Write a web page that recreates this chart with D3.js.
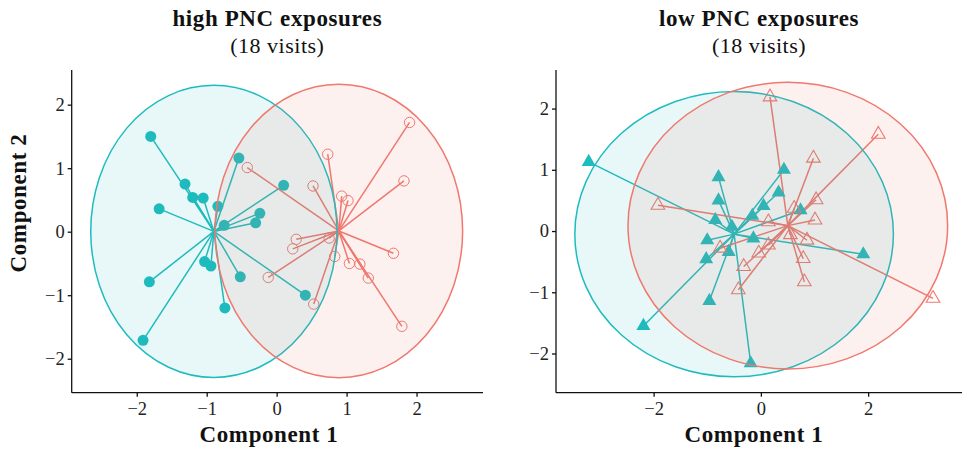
<!DOCTYPE html>
<html>
<head>
<meta charset="utf-8">
<script src="https://cdn.jsdelivr.net/npm/d3@7"></script>
<style>
  body { margin: 0; background: #fff; }
  text { font-family: "Liberation Serif", "DejaVu Serif", serif; fill: #111; }
  .title { font-weight: bold; font-size: 23px; letter-spacing: 0.6px; }
  .subtitle { font-size: 22px; letter-spacing: 0.5px; }
  .axis-label { font-weight: bold; font-size: 23px; letter-spacing: 0.6px; }
  .tick text { font-size: 18.5px; font-family: "Liberation Serif", serif; fill: #222; }
  .domain, .tick line { stroke: #111; stroke-width: 1.3; }
</style>
</head>
<body>
<svg width="962" height="452"></svg>
<script>
// high PNC panel, group 1 (filled) and group 2 (open)
const highGroup1 = [
  [-1.80, 1.50], [-1.31, 0.75], [-1.20, 0.54], [-1.05, 0.53], [-0.84, 0.40], [-1.68, 0.36],
  [-0.54, 1.16], [-1.82, -0.79], [-1.91, -1.71], [-1.03, -0.47], [-0.94, -0.54], [-0.52, -0.71],
  [-0.74, -1.20], [-0.75, 0.10], [0.10, 0.73], [-0.24, 0.29], [-0.30, 0.14], [0.41, -1.00]
];
const highGroup2 = [
  [1.90, 1.72], [0.73, 1.22], [1.82, 0.80], [0.52, 0.72], [-0.42, 1.01], [0.93, 0.56],
  [1.02, 0.49], [0.28, -0.12], [0.23, -0.27], [0.75, -0.10], [0.83, -0.39], [1.04, -0.50],
  [1.19, -0.51], [1.31, -0.73], [1.67, -0.34], [1.79, -1.49], [-0.12, -0.72], [0.53, -1.14]
];
// low PNC panel
const lowGroup1 = [
  [-3.21, 1.13], [-2.19, -1.55], [-0.79, 0.88], [-0.79, 0.50], [-0.85, 0.18], [-1.00, -0.15],
  [-1.02, -0.46], [-0.96, -1.14], [-0.60, -0.34], [-0.54, 0.07], [-0.16, 0.25], [-0.14, -0.12],
  [0.05, 0.41], [0.33, 0.63], [0.43, 1.00], [-0.19, -2.16], [1.91, -0.38], [0.74, 0.34]
];
const lowGroup2 = [
  [0.17, 2.19], [-1.92, 0.42], [-0.42, -0.96], [-0.32, -0.58], [-0.76, -0.28], [0.14, 0.15],
  [-0.04, -0.36], [0.14, -0.23], [2.19, 1.58], [0.98, 1.19], [1.03, 0.51], [1.01, 0.18],
  [0.62, 0.37], [3.21, -1.10], [0.79, -0.45], [0.81, -0.83], [0.86, -0.15], [0.55, -0.06]
];
// ellipse half-axes [rx, ry] for group 1 and group 2
const highRadii = [[1.76, 2.30], [1.77, 2.31]];
const lowRadii = [[2.97, 2.33], [2.98, 2.34]];

const titles = ["high PNC exposures", "low PNC exposures"];
const subtitles = ["(18 visits)", "(18 visits)"];
const xTicksHigh = [-2, -1, 0, 1, 2];
const xTicksLow = [-2, 0, 2];
const yTicks = [-2, -1, 0, 1, 2];

const colors = ["#1fbcbf", "#f0786e"];

const svg = d3.select("svg");

const panels = [
  { left: 71.7, right: 483, xDom: [-2.93, 2.95], yDom: [-2.535, 2.546], xTicks: xTicksHigh,
    groups: [highGroup1, highGroup2], radii: highRadii, shape: "circle", title: titles[0], sub: subtitles[0] },
  { left: 556, right: 962, xDom: [-3.82, 3.75], yDom: [-2.64, 2.63], xTicks: xTicksLow,
    groups: [lowGroup1, lowGroup2], radii: lowRadii, shape: "triangle", title: titles[1], sub: subtitles[1] }
];
const plotTop = 70, plotBottom = 392.7;

panels.forEach((p, pi) => {
  const x = d3.scaleLinear().domain(p.xDom).range([p.left, p.right]);
  const y = d3.scaleLinear().domain(p.yDom).range([plotBottom, plotTop]);
  const g = svg.append("g");

  p.groups.forEach((pts, gi) => {
    const cx = d3.mean(pts, d => d[0]), cy = d3.mean(pts, d => d[1]);
    // spider segments
    g.append("g").selectAll("line").data(pts).join("line")
      .attr("x1", x(cx)).attr("y1", y(cy))
      .attr("x2", d => x(d[0])).attr("y2", d => y(d[1]))
      .attr("stroke", colors[gi]).attr("stroke-width", 1.5);
  });

  p.groups.forEach((pts, gi) => {
    const filled = gi === 0;
    const pg = g.append("g");
    if (p.shape === "circle") {
      pg.selectAll("circle").data(pts).join("circle")
        .attr("cx", d => x(d[0])).attr("cy", d => y(d[1]))
        .attr("r", filled ? 5.5 : 5.2)
        .attr("fill", filled ? colors[gi] : "none")
        .attr("stroke", colors[gi]).attr("stroke-width", filled ? 0 : 1);
    } else {
      const sym = d3.symbol().type(d3.symbolTriangle).size(filled ? 85 : 80);
      pg.selectAll("path").data(pts).join("path")
        .attr("transform", d => `translate(${x(d[0])},${y(d[1])})`)
        .attr("d", sym)
        .attr("fill", filled ? colors[gi] : "none")
        .attr("stroke", colors[gi]).attr("stroke-width", filled ? 0 : 1.1);
    }
  });

  // ellipses drawn over the points, as in the original
  p.groups.forEach((pts, gi) => {
    const cx = d3.mean(pts, d => d[0]), cy = d3.mean(pts, d => d[1]);
    const [rx, ry] = p.radii[gi];
    g.append("ellipse")
      .attr("cx", x(cx)).attr("cy", y(cy))
      .attr("rx", x(cx + rx) - x(cx)).attr("ry", y(cy) - y(cy + ry))
      .attr("fill", colors[gi]).attr("fill-opacity", 0.1)
      .attr("stroke", colors[gi]).attr("stroke-width", 1.5);
  });

  const xAxis = d3.axisBottom(x).tickValues(p.xTicks).tickSize(4).tickPadding(3)
    .tickFormat(d => d < 0 ? "\u2212" + Math.abs(d) : d);
  const yAxis = d3.axisLeft(y).tickValues(yTicks).tickSize(4).tickPadding(3)
    .tickFormat(d => d < 0 ? "\u2212" + Math.abs(d) : d);

  const gx = svg.append("g").attr("transform", `translate(0,${plotBottom})`).call(xAxis);
  gx.select(".domain").attr("d", `M${p.left},0H${p.right}`);
  const gy = svg.append("g").attr("transform", `translate(${p.left},0)`).call(yAxis);
  gy.select(".domain").attr("d", `M0,${plotTop}V${plotBottom}`);
  gx.selectAll(".tick text").attr("dy", "0.85em");

  const mid = (p.left + p.right) / 2;
  svg.append("text").attr("class", "title").attr("x", mid).attr("y", 26)
    .attr("text-anchor", "middle").text(p.title);
  svg.append("text").attr("class", "subtitle").attr("x", mid).attr("y", 53)
    .attr("text-anchor", "middle").text(p.sub);
  svg.append("text").attr("class", "axis-label").attr("x", pi === 0 ? 269 : 754).attr("y", 442)
    .attr("text-anchor", "middle").text("Component 1");
});

svg.append("text").attr("class", "axis-label")
  .attr("transform", "rotate(-90)")
  .attr("x", -203).attr("y", 26)
  .attr("text-anchor", "middle").text("Component 2");
</script>
</body>
</html>
